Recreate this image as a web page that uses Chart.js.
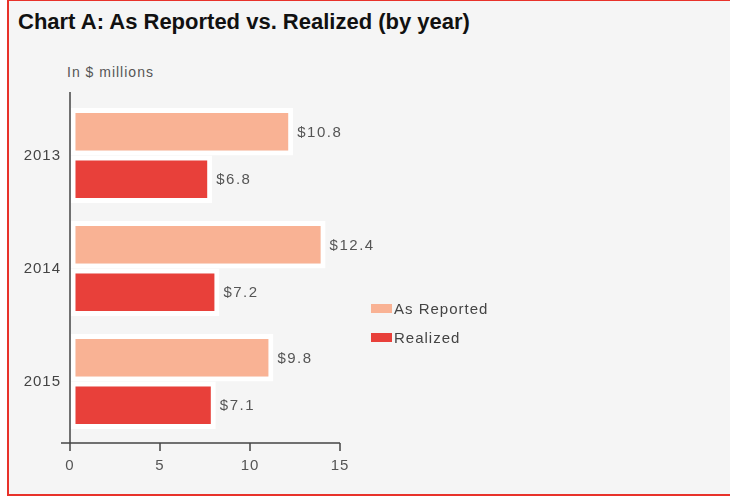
<!DOCTYPE html>
<html>
<head>
<meta charset="utf-8">
<script src="https://cdn.jsdelivr.net/npm/chart.js@4"></script>
<style>
    html, body { margin: 0; padding: 0; background: #fff; overflow: hidden; }
    #frame {
        position: absolute; left: 7px; top: -1px; width: 800px; height: 497px;
        border: 2px solid #e8322a; border-right: none; box-sizing: border-box; background: #f5f5f5;
        overflow: hidden;
    }
    #title {
        position: absolute; left: 9px; top: 8px; margin: 0;
        font: bold 22px "Liberation Sans", Arial, sans-serif; color: #111;
    }
    #unit {
        position: absolute; left: 58px; top: 63px; letter-spacing: 1px;
        font: 14px "Liberation Sans", Arial, sans-serif; color: #555;
    }
    #chart-box { position: absolute; left: -9px; top: -1px; width: 380px; height: 496px; }
    #legend { position: absolute; left: 362px; top: 293px; font: 15px "Liberation Sans", Arial, sans-serif; color: #444; letter-spacing: 1px; }
    #legend .item { height: 29px; display: flex; align-items: center; }
    #legend .swatch { width: 21px; height: 9px; margin-right: 2px; }
</style>
</head>
<body>
<div id="frame">
    <h1 id="title">Chart A: As Reported vs. Realized (by year)</h1>
    <div id="unit">In $ millions</div>
    <div id="chart-box"><canvas id="bars"></canvas></div>
    <div id="legend"></div>
</div>
<script>
// data (bar lengths as drawn, labels as printed)
const years = ['2013', '2014', '2015'];
const asReported = [12.4, 14.2, 11.3];
const realized = [7.9, 8.3, 8.1];
const asReportedLabels = ['$10.8', '$12.4', '$9.8'];
const realizedLabels = ['$6.8', '$7.2', '$7.1'];
const xTicks = [0, 5, 10, 15];

const seriesNames = ['As Reported', 'Realized'];
const seriesColors = ['#f9b294', '#e8403a'];
const seriesLabels = [asReportedLabels, realizedLabels];

// the original text is spaced out a little
const spacing = {
    id: 'spacing',
    beforeDraw(chart) { chart.ctx.letterSpacing = '1px'; }
};

// value labels to the right of each bar
const barLabels = {
    id: 'barLabels',
    afterDatasetsDraw(chart) {
        const ctx = chart.ctx;
        ctx.save();
        ctx.font = '15px "Liberation Sans", Arial, sans-serif';
        ctx.letterSpacing = '1.5px';
        ctx.fillStyle = '#555';
        ctx.textBaseline = 'middle';
        chart.data.datasets.forEach((ds, i) => {
            chart.getDatasetMeta(i).data.forEach((bar, j) => {
                ctx.fillText(seriesLabels[i][j], bar.x + 4, bar.y + 1);
            });
        });
        ctx.restore();
    }
};

// axis lines a bit past the plot area, like the original
const axisLines = {
    id: 'axisLines',
    afterDraw(chart) {
        const { ctx, chartArea: a, scales } = chart;
        const base = a.bottom + 5;
        ctx.save();
        ctx.strokeStyle = '#444';
        ctx.lineWidth = 1.5;
        ctx.beginPath();
        ctx.moveTo(a.left, a.top - 7);
        ctx.lineTo(a.left, base);
        ctx.moveTo(a.left - 9, base);
        ctx.lineTo(a.right, base);
        xTicks.forEach(v => {
            const x = scales.x.getPixelForValue(v);
            ctx.moveTo(x, base);
            ctx.lineTo(x, base + 8);
        });
        ctx.stroke();
        ctx.restore();
    }
};

const chart = new Chart(document.getElementById('bars'), {
    type: 'bar',
    data: {
        labels: years,
        datasets: [
            { label: seriesNames[0], data: asReported, backgroundColor: seriesColors[0] },
            { label: seriesNames[1], data: realized, backgroundColor: seriesColors[1] }
        ]
    },
    options: {
        indexAxis: 'y',
        responsive: true,
        maintainAspectRatio: false,
        animation: false,
        layout: { padding: { top: 99, right: 40, left: 0, bottom: 0 } },
        datasets: {
            bar: {
                categoryPercentage: 0.84,
                barPercentage: 1,
                borderColor: '#ffffff',
                borderWidth: 5,
                borderSkipped: false
            }
        },
        scales: {
            x: {
                min: 0,
                max: 15,
                afterBuildTicks: s => { s.ticks = xTicks.map(v => ({ value: v })); },
                afterFit: s => { s.height = 58; },
                grid: { drawOnChartArea: false, color: 'rgba(0,0,0,0)', tickLength: 19 },
                border: { display: false },
                ticks: {
                    padding: 0,
                    color: '#555',
                    font: { family: '"Liberation Sans", Arial, sans-serif', size: 15 }
                }
            },
            y: {
                afterFit: s => { s.width = 70; },
                grid: { display: false, drawTicks: false },
                border: { display: false },
                ticks: {
                    padding: 9,
                    color: '#444',
                    font: { family: '"Liberation Sans", Arial, sans-serif', size: 15 }
                }
            }
        },
        plugins: {
            legend: { display: false },
            tooltip: { enabled: false }
        }
    },
    plugins: [spacing, barLabels, axisLines]
});

// legend off to the right of the plot
document.getElementById('legend').innerHTML = chart.data.datasets.map(ds =>
    '<div class="item"><span class="swatch" style="background:' + ds.backgroundColor + '"></span>' + ds.label + '</div>'
).join('');
</script>
</body>
</html>
